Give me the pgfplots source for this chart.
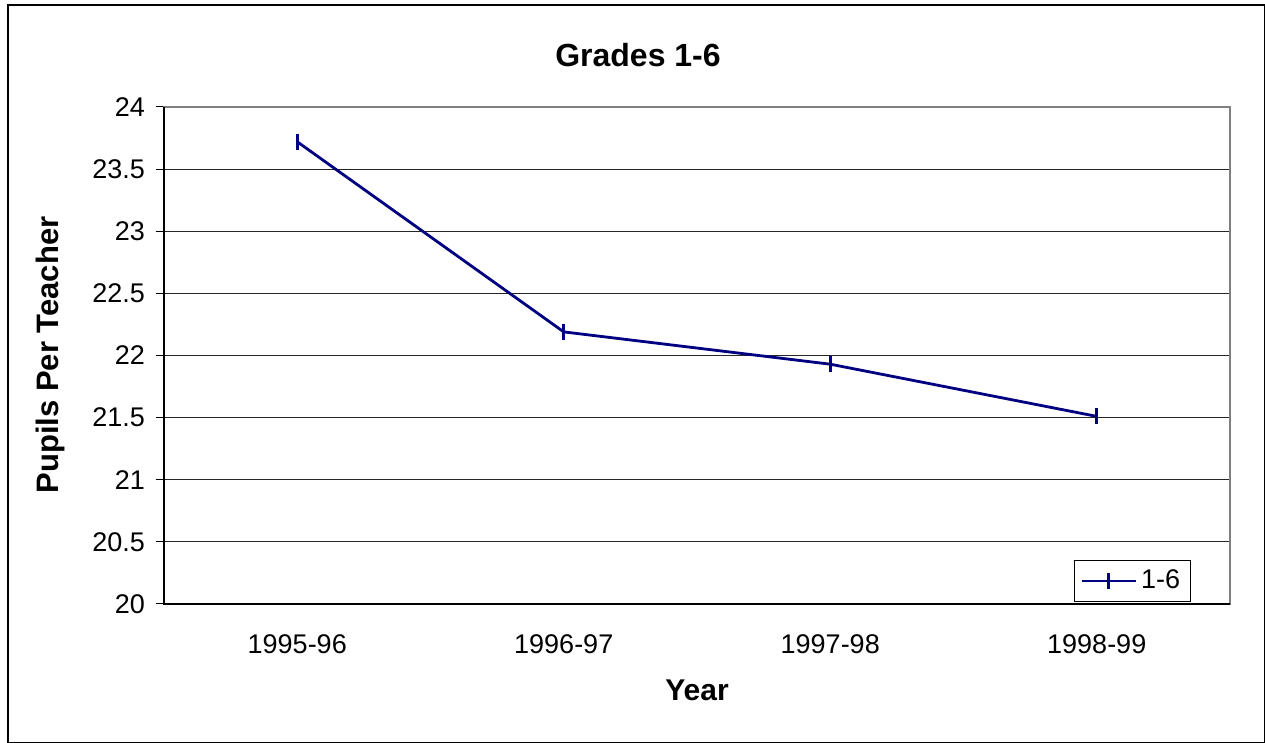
\documentclass[border=0pt]{standalone}
\usepackage{pgfplots}
\pgfplotsset{compat=1.18}
\usepackage{fontspec}
\setmainfont{Liberation Sans}
\definecolor{navyline}{RGB}{0,0,128}
\begin{document}
\begin{tikzpicture}
\useasboundingbox (-82pt,-69.5pt) rectangle (550.5pt,302pt);
\draw[black, line width=0.8pt] (-78pt,-69.5pt) rectangle (550.5pt,299.5pt);
\begin{axis}[
  at={(0pt,0pt)}, anchor=south west,
  width=533pt, height=248.5pt, scale only axis,
  xmin=-0.5, xmax=3.5, ymin=20, ymax=24,
  xtick={0,1,2,3},
  xticklabels={1995-96,1996-97,1997-98,1998-99},
  extra x ticks={-0.5,0.5,1.5,2.5,3.5},
  extra x tick labels={},
  extra x tick style={major tick length=4pt, tick style={black, line width=0.5pt}},
  xtick pos=bottom, ytick pos=left,
  ytick={20,20.5,...,24},
  yticklabels={20,20.5,21,21.5,22,22.5,23,23.5,24},
  x tick style={draw=none},
  y tick style={black, line width=0.5pt},
  tick align=outside,
  major tick length=4pt,
  ymajorgrids, grid style={black!85, line width=0.5pt},
  axis line style={gray, line width=0.8pt},
  tick label style={font=\fontsize{13.5}{15}\selectfont},
  /pgf/number format/assume math mode=true,
  xticklabel style={yshift=-8pt},
  yticklabel style={xshift=-2pt},
  legend style={at={(rel axis cs:0.963,0.003)}, anchor=south east, draw=black, line width=0.5pt, font=\fontsize{13.5}{15}\selectfont, inner xsep=3pt, inner ysep=3pt, row sep=0pt},
  legend image code/.code={
    \draw[#1, mark=none] (0pt,0pt) -- (27pt,0pt);
    \draw[#1, mark=none] (13.5pt,-4pt) -- (13.5pt,4pt);
  },
  legend cell align=left,
  clip=false,
]
\addplot[navyline, line width=1.4pt, mark=|, mark size=4pt, mark options={line width=1.4pt}] coordinates {
  (0,23.72) (1,22.19) (2,21.93) (3,21.51)
};
\addlegendentry{1-6}
\end{axis}
\draw[black, line width=0.8pt] (0pt,248.5pt) -- (0pt,0pt) -- (533pt,0pt);
\node[font=\bfseries\fontsize{16}{18}\selectfont] at (237pt,274.5pt) {Grades 1-6};
\node[font=\bfseries\fontsize{15.5}{18}\selectfont, rotate=90] at (-57pt,124.5pt) {Pupils Per Teacher};
\node[font=\bfseries\fontsize{15}{18}\selectfont] at (266.5pt,-43pt) {Year};
\end{tikzpicture}
\end{document}
